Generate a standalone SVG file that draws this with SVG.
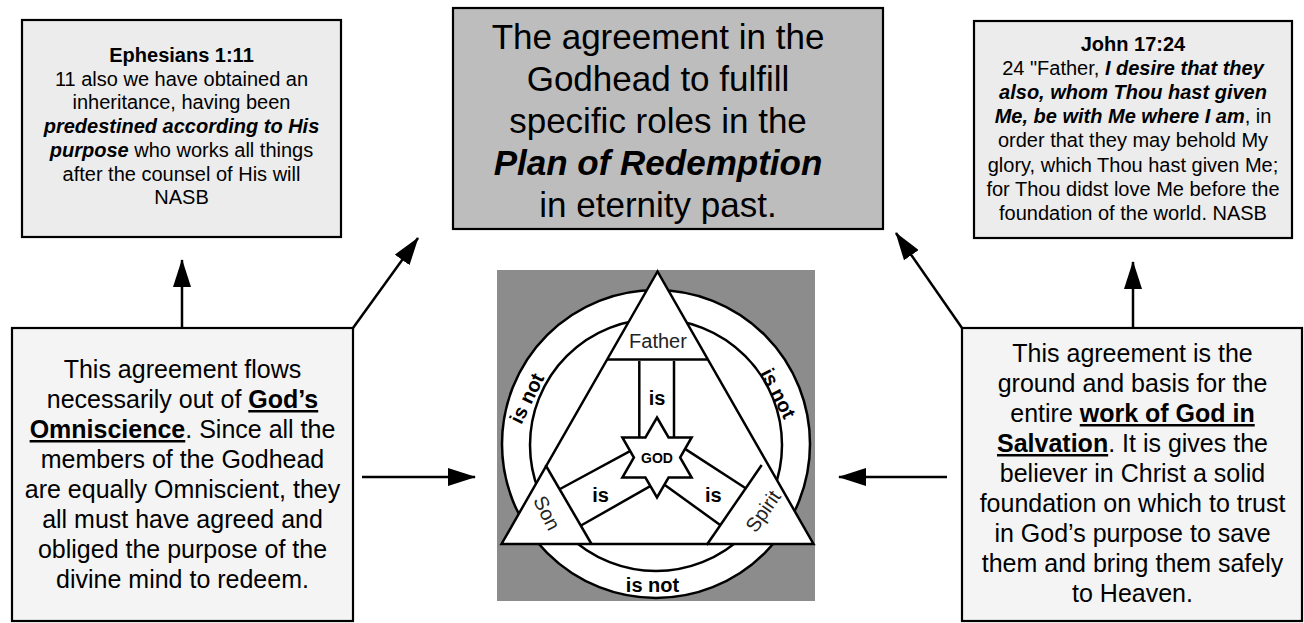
<svg xmlns="http://www.w3.org/2000/svg" width="1304" height="623" viewBox="0 0 1304 623">
<style>
text{font-family:"Liberation Sans",Arial,sans-serif;fill:#000;text-anchor:middle}
.box{stroke:#000;stroke-width:2.2}
.small{font-size:20px}
.big{font-size:35px}
.mid{font-size:25px}
.b{font-weight:bold}
.bi{font-weight:bold;font-style:italic}
.u{font-weight:bold;text-decoration:underline}
.conn line{stroke:#000;stroke-width:2.5;marker-end:url(#ah)}
.ln{stroke:#000;stroke-width:2.5;fill:none;stroke-linejoin:miter}
.lbl{font-size:20px;font-weight:bold}
.name{font-size:20px;fill:#222}
</style>
<defs>
<marker id="ah" markerUnits="userSpaceOnUse" markerWidth="28" markerHeight="18" refX="27" refY="9" orient="auto" viewBox="0 0 28 18"><path d="M0,0 L28,9 L0,18 z" fill="#000"/></marker>
</defs>
<rect width="1304" height="623" fill="#fff"/>

<g id="ephesians">
<rect class="box" x="22" y="20" width="319" height="217" fill="#ececec"/>
<text class="small" x="181.5" y="62"><tspan class="b">Ephesians 1:11</tspan></text>
<text class="small" x="181.5" y="85.7">11 also we have obtained an</text>
<text class="small" x="181.5" y="109.4">inheritance, having been</text>
<text class="small" x="181.5" y="133.1"><tspan class="bi">predestined according to His</tspan></text>
<text class="small" x="181.5" y="156.8"><tspan class="bi">purpose</tspan> who works all things</text>
<text class="small" x="181.5" y="180.5">after the counsel of His will</text>
<text class="small" x="181.5" y="204.2">NASB</text>
</g>

<g id="agreement">
<rect class="box" x="453" y="8" width="430" height="221" fill="#bdbdbd"/>
<text class="big" x="658" y="49">The agreement in the</text>
<text class="big" x="658" y="91">Godhead to fulfill</text>
<text class="big" x="658" y="133">specific roles in the</text>
<text class="big" x="658" y="175"><tspan class="bi">Plan of Redemption</tspan></text>
<text class="big" x="658" y="217">in eternity past.</text>
</g>

<g id="john">
<rect class="box" x="974" y="21" width="318" height="217" fill="#ececec"/>
<text class="small" x="1133" y="51"><tspan class="b">John 17:24</tspan></text>
<text class="small" x="1133" y="75">24 "Father, <tspan class="bi">I desire that they</tspan></text>
<text class="small" x="1133" y="99"><tspan class="bi">also, whom Thou hast given</tspan></text>
<text class="small" x="1133" y="123.2"><tspan class="bi">Me, be with Me where I am</tspan>, in</text>
<text class="small" x="1133" y="147.4">order that they may behold My</text>
<text class="small" x="1133" y="171.6">glory, which Thou hast given Me;</text>
<text class="small" x="1133" y="195.8">for Thou didst love Me before the</text>
<text class="small" x="1133" y="220">foundation of the world. NASB</text>
</g>

<g id="omniscience">
<rect class="box" x="12" y="328" width="341" height="293" fill="#f4f4f4"/>
<text class="mid" x="182.5" y="378">This agreement flows</text>
<text class="mid" x="182.5" y="408">necessarily out of <tspan class="u">God’s</tspan></text>
<text class="mid" x="182.5" y="438"><tspan class="u">Omniscience</tspan>. Since all the</text>
<text class="mid" x="182.5" y="468">members of the Godhead</text>
<text class="mid" x="182.5" y="498">are equally Omniscient, they</text>
<text class="mid" x="182.5" y="528">all must have agreed and</text>
<text class="mid" x="182.5" y="558">obliged the purpose of the</text>
<text class="mid" x="182.5" y="588">divine mind to redeem.</text>
</g>

<g id="salvation">
<rect class="box" x="962" y="328" width="340" height="293" fill="#f4f4f4"/>
<text class="mid" x="1132.5" y="362">This agreement is the</text>
<text class="mid" x="1132.5" y="392">ground and basis for the</text>
<text class="mid" x="1132.5" y="422">entire <tspan class="u">work of God in</tspan></text>
<text class="mid" x="1132.5" y="452"><tspan class="u">Salvation</tspan>. It is gives the</text>
<text class="mid" x="1132.5" y="482">believer in Christ a solid</text>
<text class="mid" x="1132.5" y="512">foundation on which to trust</text>
<text class="mid" x="1132.5" y="542">in God’s purpose to save</text>
<text class="mid" x="1132.5" y="572">them and bring them safely</text>
<text class="mid" x="1132.5" y="602">to Heaven.</text>
</g>

<g id="trinity">
<rect x="497" y="270" width="318" height="331" fill="#8c8c8c"/>
<circle class="ln" cx="656" cy="444" r="154" style="fill:#fff"/>
<circle class="ln" cx="656" cy="445" r="126" style="fill:#fff"/>
<path class="ln" d="M657.5,271.5 L501.5,544 L813.5,544 Z" style="fill:#fff"/>
<line class="ln" x1="607" y1="359.5" x2="708" y2="359.5"/>
<line class="ln" x1="545.5" y1="465" x2="591.5" y2="544"/>
<line class="ln" x1="761.7" y1="465" x2="706.7" y2="545"/>
<line class="ln" x1="639.3" y1="361" x2="639.3" y2="440"/>
<line class="ln" x1="674" y1="361" x2="674" y2="440"/>
<line class="ln" x1="560" y1="489" x2="636" y2="447.8"/>
<line class="ln" x1="581" y1="525.5" x2="652" y2="485.2"/>
<line class="ln" x1="680" y1="445.6" x2="745.7" y2="488.3"/>
<line class="ln" x1="660" y1="481.4" x2="720.5" y2="525.3"/>
<path class="ln" style="fill:#fff" d="M657,417.5 L668.55,437.5 L691.64,437.5 L680.09,457.5 L691.64,477.5 L668.55,477.5 L657,497.5 L645.45,477.5 L622.36,477.5 L633.91,457.5 L622.36,437.5 L645.45,437.5 Z"/>
<text x="657" y="463" style="font-size:14px;font-weight:bold">GOD</text>
<text class="name" x="658" y="347.5">Father</text>
<text class="lbl" x="657" y="405">is</text>
<text class="lbl" x="600.5" y="501.7">is</text>
<text class="lbl" x="713.3" y="501.7">is</text>
<text class="lbl" x="652.5" y="592">is not</text>
<text class="lbl" transform="translate(526.7,398.3) rotate(-64)" x="0" y="7">is not</text>
<text class="lbl" transform="translate(778.3,393.3) rotate(63)" x="0" y="7">is not</text>
<text class="name" transform="translate(547,513) rotate(63)" x="0" y="7">Son</text>
<text class="name" transform="translate(763,511) rotate(-55)" x="0" y="7">Spirit</text>
</g>

<g id="connectors" class="conn">
<line x1="182" y1="328" x2="182" y2="260"/>
<line x1="353" y1="328" x2="418" y2="238"/>
<line x1="362" y1="477" x2="475" y2="477"/>
<line x1="1133" y1="328" x2="1133" y2="262"/>
<line x1="962" y1="328" x2="896" y2="233"/>
<line x1="947" y1="477" x2="839" y2="477"/>
</g>
</svg>
